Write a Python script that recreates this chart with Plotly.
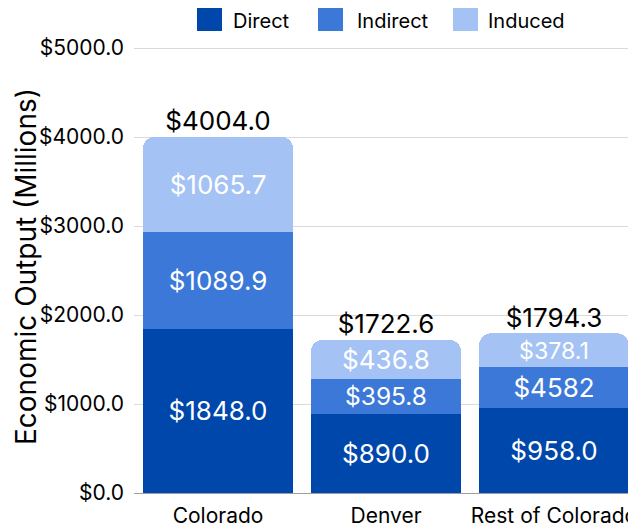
import plotly.graph_objects as go

categories = ["Colorado", "Denver", "Rest of Colorado"]
direct = [1848.0, 890.0, 958.0]
indirect = [1089.9, 395.8, 458.2]
induced = [1065.7, 436.8, 378.1]
totals = [4004.0, 1722.6, 1794.3]
direct_labels = ["$1848.0", "$890.0", "$958.0"]
indirect_labels = ["$1089.9", "$395.8", "$4582"]
induced_labels = ["$1065.7", "$436.8", "$378.1"]
total_labels = ["$4004.0", "$1722.6", "$1794.3"]
tick_vals = [0, 1000, 2000, 3000, 4000, 5000]
tick_text = ["$0.0", "$1000.0", "$2000.0", "$3000.0", "$4000.0", "$5000.0"]
y_title = "Economic Output (Millions)"

series = [
    ("Direct", direct, direct_labels, "#0047ab"),
    ("Indirect", indirect, indirect_labels, "#3c78d8"),
    ("Induced", induced, induced_labels, "#a4c2f4"),
]

FONT = "Inter"
W, H = 628, 521
L, R, T, B = 126, 0, 39, 36
PW, PH = W - L - R, H - T - B

fig = go.Figure()
for name, vals, labels, color in series:
    fig.add_trace(go.Bar(
        x=categories, y=vals, name=name, marker_color=color,
        marker_line_width=0,
        text=labels, textposition="inside", insidetextanchor="middle",
        textfont=dict(color="white", size=26, family=FONT),
        showlegend=False, hoverinfo="skip",
    ))
fig.add_trace(go.Scatter(
    x=categories, y=totals, mode="text", text=total_labels,
    textposition="top center", textfont=dict(size=26, color="black", family=FONT),
    showlegend=False, hoverinfo="skip", cliponaxis=False,
))

# manual legend (pixel positions in figure coords)
def px_x(p):
    return (p - L) / PW

def px_y(p):
    return 1 - (p - T) / PH

legend_pos = [(189, 224), (310, 348), (445, 479)]  # square left, text left
for (name, vals, labels, color), (sx, tx) in zip(series, legend_pos):
    fig.add_shape(type="rect", xref="paper", yref="paper",
                  x0=px_x(sx), x1=px_x(sx + 25), y0=px_y(0), y1=px_y(23),
                  fillcolor=color, line_width=0)
    fig.add_annotation(xref="paper", yref="paper", x=px_x(tx), y=px_y(0),
                       text=name, showarrow=False, xanchor="left", yanchor="top",
                       borderpad=0,
                       font=dict(size=20, family=FONT, color="black"))

# y-axis title as rotated annotation
fig.add_annotation(xref="paper", yref="paper", x=px_x(18), y=px_y(259),
                   text=y_title, textangle=-90, showarrow=False,
                   xanchor="center", yanchor="middle", borderpad=0,
                   font=dict(size=28, family=FONT, color="black"))

fig.update_layout(
    width=W, height=H,
    barmode="stack", bargap=0.107, barcornerradius=12,
    plot_bgcolor="white", paper_bgcolor="white",
    margin=dict(l=L, r=R, t=T, b=B, autoexpand=False),
    font=dict(family=FONT, color="black"),
    showlegend=False,
    xaxis=dict(range=[-0.5, 2.488], tickfont=dict(size=21), showgrid=False,
               showline=False, ticks="", automargin=False, ticklabelstandoff=8),
    yaxis=dict(range=[0, 5012], tickvals=tick_vals, ticktext=tick_text,
               tickfont=dict(size=21), gridcolor="#dadada", zeroline=True,
               zerolinecolor="#9e9e9e", zerolinewidth=1, automargin=False,
               ticklabelstandoff=9),
)
fig.write_html("out.html")
